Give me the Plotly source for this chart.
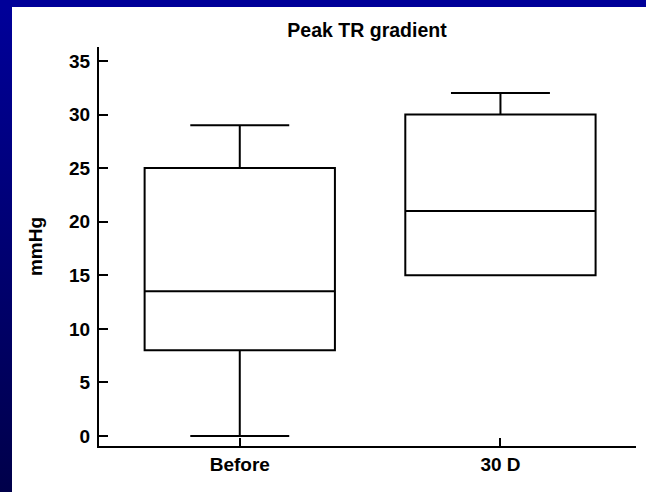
import plotly.graph_objects as go

categories = ["Before", "30 D"]
lower = [0, 15]
q1 = [8, 15]
median = [13.5, 21]
q3 = [25, 30]
upper = [29, 32]
y_ticks = [0, 5, 10, 15, 20, 25, 30, 35]

fig = go.Figure()
fig.add_trace(go.Box(
    x=categories, q1=q1, median=median, q3=q3,
    lowerfence=lower, upperfence=upper,
    fillcolor="white", line=dict(color="black", width=2),
    whiskerwidth=0.52, width=0.73, boxpoints=False, hoverinfo="skip",
    showlegend=False,
))

font = "Liberation Sans, Arial, sans-serif"
svg = ("data:image/svg+xml;utf8,<svg xmlns='http://www.w3.org/2000/svg' width='10' height='100' "
       "preserveAspectRatio='none'><defs><linearGradient id='g' x1='0' y1='0' x2='0' y2='1'>"
       "<stop offset='0' stop-color='%23000099'/><stop offset='1' stop-color='%2300004a'/>"
       "</linearGradient></defs><rect width='10' height='100' fill='url(%23g)'/></svg>")

W, H = 646, 492
L, R, T, B = 99, 10, 47, 46
pw, ph = W - L - R, H - T - B

def px(x):
    return (x - L) / pw

def py(y):
    return (H - B - y) / ph

bold = dict(family=font, size=19, color="black", weight="bold")

fig.update_layout(
    width=W, height=H,
    margin=dict(l=L, r=R, t=T, b=B),
    paper_bgcolor="#000099", plot_bgcolor="white",
    title=dict(text="Peak TR gradient", x=px(367), xref="paper", xanchor="center",
               y=1 - 30 / H, yanchor="middle", font=dict(bold, size=19.5)),
    shapes=[dict(type="rect", xref="paper", yref="paper", x0=px(12), x1=px(W + 5),
                 y0=py(7), y1=py(H + 5), fillcolor="white", line=dict(width=0), layer="below")],
    images=[dict(source=svg, xref="paper", yref="paper", x=px(0), y=py(7), sizex=px(12) - px(0),
                 sizey=py(7) - py(H), xanchor="left", yanchor="top", sizing="stretch", layer="below")],
    xaxis=dict(range=[-0.54, 1.52], showline=True, linecolor="black", linewidth=2,
               ticks="inside", ticklen=8, tickwidth=2, tickcolor="black", showgrid=False,
               zeroline=False, tickfont=bold),
    yaxis=dict(range=[-0.93, 36.3], tickvals=y_ticks, showline=True, linecolor="black", linewidth=2,
               ticks="inside", ticklen=9, tickwidth=2, tickcolor="black", showgrid=False,
               zeroline=False, tickfont=bold, ticklabelstandoff=3,
               title=dict(text="mmHg", font=bold, standoff=21)),
)

fig.write_html("out.html")
